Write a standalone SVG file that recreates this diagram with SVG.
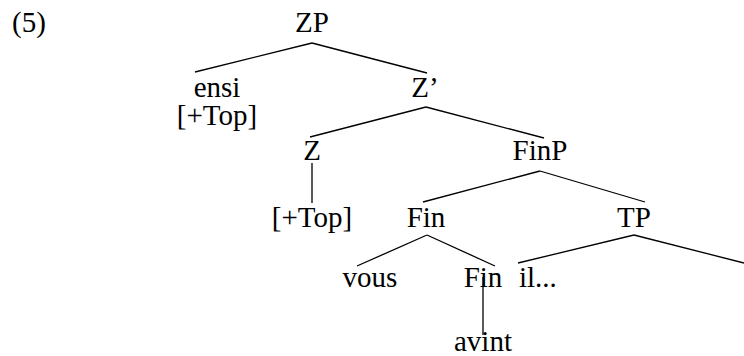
<svg xmlns="http://www.w3.org/2000/svg" width="744" height="356" viewBox="0 0 744 356">
<style>
text{font-family:"Liberation Serif","Times New Roman",serif;font-size:29px;fill:#000;text-anchor:middle}
.l{stroke:#000;stroke-width:1.3;fill:none}
</style>
<rect width="744" height="356" fill="#fff"/>
<text x="12" y="32" style="text-anchor:start">(5)</text>
<g id="connectors">
<line class="l" x1="312" y1="43" x2="195" y2="72"/>
<line class="l" x1="312" y1="43" x2="427" y2="73"/>
<line class="l" x1="426" y1="107" x2="310" y2="137"/>
<line class="l" x1="426" y1="107" x2="544" y2="138"/>
<line class="l" x1="312" y1="163" x2="312" y2="203"/>
<line class="l" x1="540" y1="171" x2="423" y2="202"/>
<line class="l" x1="540" y1="171" x2="645" y2="202"/>
<line class="l" x1="634" y1="235" x2="518" y2="263"/>
<line class="l" x1="634" y1="235" x2="744" y2="263"/>
<line class="l" x1="427" y1="235" x2="357" y2="266"/>
<line class="l" x1="427" y1="235" x2="495" y2="266"/>
<line class="l" x1="483" y1="277" x2="483" y2="335"/>
</g>
<g id="ZP"><text x="312" y="32">ZP</text></g>
<g id="ensi"><text x="217" y="97">ensi</text><text x="217" y="125">[+Top]</text></g>
<g id="Zbar"><text x="425" y="97">Z’</text></g>
<g id="Z"><text x="312" y="160">Z</text></g>
<g id="FinP"><text x="540" y="160">FinP</text></g>
<g id="Top2"><text x="312" y="227">[+Top]</text></g>
<g id="Fin1"><text x="426" y="227">Fin</text></g>
<g id="TP"><text x="634" y="227">TP</text></g>
<g id="vous"><text x="370" y="287">vous</text></g>
<g id="Fin2"><text x="483" y="287">Fin</text></g>
<g id="il"><text x="519" y="287" style="text-anchor:start">il...</text></g>
<g id="avint"><text x="483" y="351">avint</text></g>
</svg>
